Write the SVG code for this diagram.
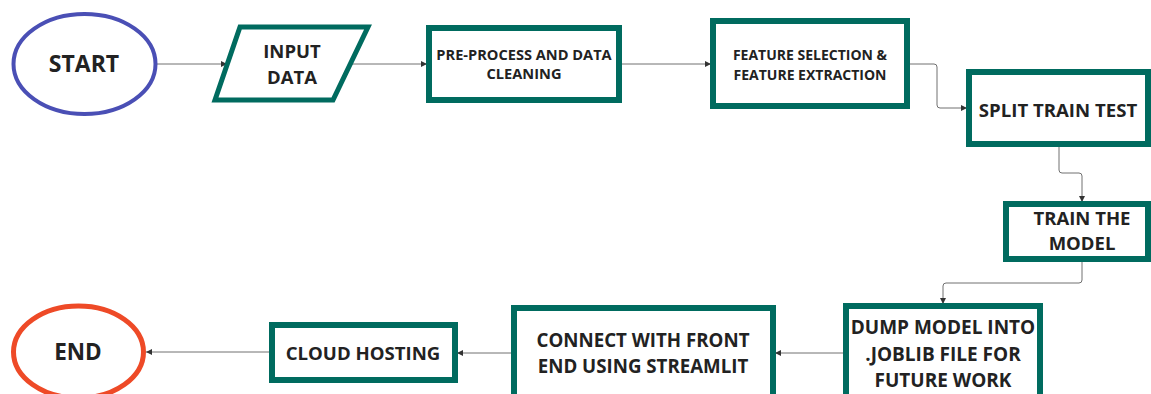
<svg xmlns="http://www.w3.org/2000/svg" width="1151" height="394" viewBox="0 0 1151 394">
  <defs>
    <style>
      .box { fill: #ffffff; stroke: #006b5f; stroke-width: 6; }
      .para { fill: #ffffff; stroke: #006b5f; stroke-width: 5; stroke-linejoin: miter; }
      .start { fill: #ffffff; stroke: #4a4fb5; stroke-width: 4; }
      .end { fill: #ffffff; stroke: #ee4a27; stroke-width: 5; }
      .lbl { font-family: "Open Sans", "Noto Sans", "Liberation Sans", sans-serif; font-weight: bold; fill: #222222; text-anchor: middle; }
      .wire { fill: none; stroke: #707070; stroke-width: 1; marker-end: url(#arrow); }
    </style>
    <marker id="arrow" markerUnits="userSpaceOnUse" markerWidth="7" markerHeight="6" refX="6" refY="3" orient="auto">
      <path d="M0,0 L6,3 L0,6 Z" fill="#333333"/>
    </marker>
  </defs>

  <g id="connectors">
    <path class="wire" d="M157,64 H227"/>
    <path class="wire" d="M352,64 H427"/>
    <path class="wire" d="M622,64 H711"/>
    <path class="wire" d="M910,64 H934 Q937,64 937,67 V105 Q937,108 940,108 H967"/>
    <path class="wire" d="M1059,147 V170 Q1059,173 1062,173 H1079 Q1082,173 1082,176 V202"/>
    <path class="wire" d="M1082,262 V280 Q1082,283 1079,283 H946 Q943,283 943,286 V304"/>
    <path class="wire" d="M843,353 H775"/>
    <path class="wire" d="M511,353 H457"/>
    <path class="wire" d="M269,352 H146"/>
  </g>

  <g id="start">
    <ellipse class="start" cx="84.5" cy="64" rx="71" ry="50"/>
    <text class="lbl" x="84" y="72" font-size="23">START</text>
  </g>

  <g id="input-data">
    <polygon class="para" points="240,27 368,27 333,100 215,100"/>
    <text class="lbl" x="292" y="58" font-size="18.5">INPUT</text>
    <text class="lbl" x="292" y="84" font-size="18.5">DATA</text>
  </g>

  <g id="pre-process">
    <rect class="box" x="429" y="28" width="190" height="72"/>
    <text class="lbl" x="524" y="60" font-size="14.6">PRE-PROCESS AND DATA</text>
    <text class="lbl" x="524" y="79" font-size="14.6">CLEANING</text>
  </g>

  <g id="feature">
    <rect class="box" x="713" y="21" width="194" height="85"/>
    <text class="lbl" x="810" y="60" font-size="14">FEATURE SELECTION &amp;</text>
    <text class="lbl" x="810" y="80" font-size="14">FEATURE EXTRACTION</text>
  </g>

  <g id="split">
    <rect class="box" x="969" y="72" width="179" height="72"/>
    <text class="lbl" x="1058" y="117" font-size="18.6">SPLIT TRAIN TEST</text>
  </g>

  <g id="train">
    <rect class="box" x="1006" y="204" width="142" height="55"/>
    <text class="lbl" x="1082" y="225" font-size="18.5">TRAIN THE</text>
    <text class="lbl" x="1082" y="250" font-size="18.5">MODEL</text>
  </g>

  <g id="dump">
    <rect class="box" x="846" y="306" width="194" height="100"/>
    <text class="lbl" x="943" y="334" font-size="19">DUMP MODEL INTO</text>
    <text class="lbl" x="943" y="361" font-size="19">.JOBLIB FILE FOR</text>
    <text class="lbl" x="943" y="387" font-size="19">FUTURE WORK</text>
  </g>

  <g id="connect">
    <rect class="box" x="514" y="308" width="259" height="100"/>
    <text class="lbl" x="643" y="347" font-size="18.7">CONNECT WITH FRONT</text>
    <text class="lbl" x="643" y="373" font-size="18.7">END USING STREAMLIT</text>
  </g>

  <g id="cloud">
    <rect class="box" x="272" y="325" width="183" height="55"/>
    <text class="lbl" x="363" y="360" font-size="18.6">CLOUD HOSTING</text>
  </g>

  <g id="end">
    <ellipse class="end" cx="78.5" cy="352" rx="65" ry="46"/>
    <text class="lbl" x="78" y="360" font-size="22.5">END</text>
  </g>
</svg>
